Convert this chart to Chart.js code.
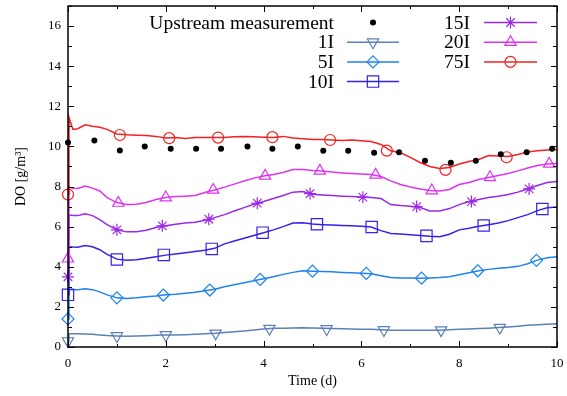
<!DOCTYPE html>
<html>
<head>
<meta charset="utf-8">
<script src="https://cdn.jsdelivr.net/npm/chart.js"></script>
<style>
  html, body { margin: 0; padding: 0; background: #fff; }
</style>
</head>
<body>
<canvas id="do-chart" width="567" height="396"></canvas>
<script>
// Simulated DO series (days on x, g/m3 on y)
const days = [0, 0.02, 0.1, 0.2, 0.35, 0.5, 0.65, 0.8, 1.0, 1.2, 1.4, 1.6, 1.8, 2.0, 2.2, 2.4, 2.6, 2.8,
  3.0, 3.2, 3.4, 3.6, 3.8, 4.0, 4.2, 4.4, 4.6, 4.8, 5.0, 5.2, 5.4, 5.6, 5.8, 6.0, 6.2, 6.4, 6.6, 6.8,
  7.0, 7.2, 7.4, 7.6, 7.8, 8.0, 8.2, 8.4, 8.6, 8.8, 9.0, 9.2, 9.4, 9.6, 9.8, 10.0];

const do1I = [0.3, 0.66, 0.66, 0.66, 0.65, 0.63, 0.6, 0.57, 0.55, 0.54, 0.55, 0.56, 0.58, 0.6, 0.6, 0.61, 0.63, 0.66,
  0.68, 0.72, 0.76, 0.8, 0.85, 0.9, 0.93, 0.94, 0.95, 0.96, 0.95, 0.93, 0.92, 0.91, 0.9, 0.89, 0.88, 0.86, 0.84, 0.84,
  0.84, 0.84, 0.83, 0.84, 0.86, 0.88, 0.9, 0.92, 0.94, 0.97, 1.0, 1.04, 1.08, 1.11, 1.14, 1.16];
const do5I = [1.4, 2.85, 2.86, 2.86, 2.9, 2.86, 2.75, 2.6, 2.45, 2.42, 2.45, 2.5, 2.54, 2.6, 2.63, 2.68, 2.73, 2.8,
  2.88, 3.0, 3.1, 3.2, 3.3, 3.4, 3.5, 3.62, 3.72, 3.8, 3.78, 3.76, 3.75, 3.72, 3.7, 3.68, 3.65, 3.55, 3.46, 3.44,
  3.44, 3.43, 3.44, 3.46, 3.5, 3.6, 3.7, 3.8, 3.87, 3.92, 3.96, 4.02, 4.15, 4.33, 4.45, 4.5];
const do10I = [2.6, 5.0, 4.98, 4.97, 5.06, 5.0, 4.85, 4.62, 4.38, 4.32, 4.35, 4.42, 4.5, 4.58, 4.64, 4.7, 4.76, 4.82,
  4.92, 5.14, 5.28, 5.42, 5.56, 5.7, 5.84, 6.0, 6.18, 6.2, 6.13, 6.1, 6.08, 6.06, 6.04, 6.02, 5.98, 5.8, 5.66, 5.63,
  5.6, 5.56, 5.52, 5.5, 5.62, 5.84, 5.92, 6.02, 6.1, 6.18, 6.3, 6.45, 6.6, 6.8, 6.94, 6.98];
const do15I = [3.5, 6.58, 6.56, 6.55, 6.64, 6.55, 6.35, 6.1, 5.84, 5.74, 5.74, 5.82, 5.96, 6.05, 6.12, 6.18, 6.22, 6.32,
  6.45, 6.6, 6.78, 6.95, 7.12, 7.25, 7.4, 7.55, 7.72, 7.75, 7.62, 7.58, 7.55, 7.52, 7.5, 7.48, 7.45, 7.4, 7.1, 7.05,
  7.02, 6.95, 6.78, 6.78, 6.9, 7.1, 7.25, 7.35, 7.45, 7.52, 7.6, 7.72, 7.88, 8.05, 8.2, 8.25];
const do20I = [4.4, 7.97, 7.92, 7.9, 8.02, 7.92, 7.78, 7.45, 7.2, 7.1, 7.12, 7.2, 7.35, 7.45, 7.5, 7.52, 7.55, 7.7,
  7.83, 7.97, 8.12, 8.28, 8.42, 8.52, 8.6, 8.7, 8.85, 8.85, 8.8, 8.78, 8.72, 8.68, 8.65, 8.62, 8.6, 8.5, 8.28, 8.1,
  7.98, 7.88, 7.8, 7.78, 7.85, 8.1, 8.2, 8.35, 8.45, 8.55, 8.65, 8.78, 8.92, 9.05, 9.12, 9.15];
const do75I = [7.6, 11.45, 10.85, 10.88, 11.08, 11.0, 10.95, 10.85, 10.62, 10.58, 10.56, 10.55, 10.5, 10.42, 10.45, 10.4, 10.45, 10.44,
  10.44, 10.45, 10.48, 10.5, 10.48, 10.46, 10.45, 10.5, 10.42, 10.38, 10.35, 10.34, 10.32, 10.3, 10.32, 10.28, 10.24, 10.1, 9.78, 9.68,
  9.45, 9.2, 9.0, 8.9, 8.95, 9.12, 9.25, 9.35, 9.55, 9.52, 9.5, 9.6, 9.72, 9.78, 9.82, 9.84];

// point markers placed along each curve
const mark1I_t = [0, 1.0, 2.0, 3.02, 4.12, 5.29, 6.46, 7.63, 8.83];
const mark1I_v = [0.3, 0.55, 0.6, 0.68, 0.92, 0.9, 0.85, 0.84, 0.97];
const mark5I_t = [0, 1.0, 1.95, 2.9, 3.93, 5.0, 6.1, 7.23, 8.38, 9.58];
const mark5I_v = [1.4, 2.45, 2.59, 2.84, 3.37, 3.78, 3.67, 3.43, 3.8, 4.32];
const mark10I_t = [0, 1.0, 1.96, 2.94, 3.98, 5.09, 6.21, 7.33, 8.5, 9.7];
const mark10I_v = [2.6, 4.36, 4.59, 4.89, 5.7, 6.12, 5.98, 5.54, 6.06, 6.88];
const mark15I_t = [0, 1.0, 1.93, 2.88, 3.87, 4.95, 6.03, 7.13, 8.25, 9.43];
const mark15I_v = [3.5, 5.84, 6.04, 6.37, 7.17, 7.65, 7.47, 7.0, 7.25, 7.88];
const mark20I_t = [0, 1.03, 2.0, 2.97, 4.03, 5.15, 6.29, 7.44, 8.63, 9.84];
const mark20I_v = [4.4, 7.18, 7.45, 7.83, 8.53, 8.78, 8.58, 7.8, 8.46, 9.13];
const mark75I_t = [0, 1.06, 2.07, 3.07, 4.18, 5.36, 6.52, 7.72, 8.97];
const mark75I_v = [7.6, 10.57, 10.41, 10.44, 10.46, 10.32, 9.79, 8.83, 9.46];

// upstream measurement
const upstreamDays = [0, 0.54, 1.06, 1.57, 2.1, 2.62, 3.13, 3.67, 4.18, 4.7, 5.22, 5.73, 6.26, 6.77, 7.3, 7.83, 8.34, 8.85, 9.38, 9.9];
const upstreamDO = [10.2, 10.3, 9.8, 10.0, 9.88, 9.88, 9.88, 9.99, 9.88, 9.99, 9.78, 9.78, 9.69, 9.71, 9.29, 9.19, 9.28, 9.61, 9.71, 9.88];

const xTicks = [0, 2, 4, 6, 8, 10];
const yTicks = [0, 2, 4, 6, 8, 10, 12, 14, 16];

const FONT = '"Liberation Serif", "Times New Roman", serif';

const pairs = (xs, ys) => xs.map((x, i) => ({ x: x, y: ys[i] }));

// name, values, markers, colour, point style
const seriesDefs = [
  { name: '75I', vals: do75I, mt: mark75I_t, mv: mark75I_v, color: '#f52020', style: 'circle', radius: 5.5, rot: 0 },
  { name: '20I', vals: do20I, mt: mark20I_t, mv: mark20I_v, color: '#dd33f0', style: 'triangle', radius: 6.5, rot: 0 },
  { name: '15I', vals: do15I, mt: mark15I_t, mv: mark15I_v, color: '#9a28e8', style: 'star', radius: 6, rot: 0 },
  { name: '10I', vals: do10I, mt: mark10I_t, mv: mark10I_v, color: '#3322ee', style: 'rect', radius: 8, rot: 0 },
  { name: '5I', vals: do5I, mt: mark5I_t, mv: mark5I_v, color: '#1e82f0', style: 'rectRot', radius: 6, rot: 0 },
  { name: '1I', vals: do1I, mt: mark1I_t, mv: mark1I_v, color: '#5b80b8', style: 'triangle', radius: 6.5, rot: 180 }
];

// dataset 0 is drawn on top
const datasets = [{
  label: 'Upstream measurement',
  data: pairs(upstreamDays, upstreamDO),
  showLine: false,
  clip: false,
  pointStyle: 'circle',
  pointRadius: 3,
  pointBackgroundColor: '#000',
  pointBorderColor: '#000',
  pointBorderWidth: 0
}];
seriesDefs.forEach(s => {
  datasets.push({
    label: s.name + ' markers',
    data: pairs(s.mt, s.mv),
    showLine: false,
    clip: false,
    pointStyle: s.style,
    pointRotation: s.rot,
    pointRadius: s.radius,
    pointBorderColor: s.color,
    pointBackgroundColor: 'rgba(0,0,0,0)',
    pointBorderWidth: 1.2
  });
  datasets.push({
    label: s.name,
    data: pairs(days, s.vals),
    showLine: true,
    clip: false,
    borderColor: s.color,
    borderWidth: 1.5,
    pointRadius: 0,
    tension: 0
  });
});

// inward ticks and the frame
const framePlugin = {
  id: 'frame',
  afterDraw(chart) {
    const { ctx, chartArea: a, scales: { x, y } } = chart;
    ctx.save();
    ctx.strokeStyle = '#000';
    ctx.lineWidth = 1;
    ctx.beginPath();
    for (let v = 0; v <= 10; v++) {
      const px = Math.round(x.getPixelForValue(v)) + 0.5;
      const len = v % 2 === 0 ? 6 : 3;
      ctx.moveTo(px, a.bottom); ctx.lineTo(px, a.bottom - len);
      ctx.moveTo(px, a.top); ctx.lineTo(px, a.top + len);
    }
    for (let v = 0; v <= 17; v++) {
      const py = Math.round(y.getPixelForValue(v)) + 0.5;
      const len = v % 2 === 0 ? 6 : 4;
      ctx.moveTo(a.left, py); ctx.lineTo(a.left + len, py);
      ctx.moveTo(a.right, py); ctx.lineTo(a.right - len, py);
    }
    ctx.stroke();
    ctx.lineWidth = 1.5;
    ctx.strokeRect(a.left, a.top, a.right - a.left, a.bottom - a.top);
    ctx.restore();
  }
};

// gnuplot style key: label, then sample line with marker
const keyPlugin = {
  id: 'key',
  afterDraw(chart) {
    const { ctx, chartArea: a } = chart;
    const rows = [{ name: 'Upstream measurement', col: 0, row: 0 }];
    ['1I', '5I', '10I'].forEach((n, i) => rows.push({ name: n, col: 0, row: i + 1 }));
    ['15I', '20I', '75I'].forEach((n, i) => rows.push({ name: n, col: 1, row: i }));
    const cols = [{ text: a.left + 266, x0: a.left + 279, x1: a.left + 331 },
                  { text: a.left + 402, x0: a.left + 416, x1: a.left + 469 }];
    ctx.save();
    ctx.font = '19.5px ' + FONT;
    ctx.textAlign = 'right';
    ctx.textBaseline = 'middle';
    rows.forEach(r => {
      const c = cols[r.col];
      const yy = a.top + 16.5 + 19.7 * r.row;
      ctx.fillStyle = '#000';
      ctx.fillText(r.name, c.text, yy + 1);
      const mid = (c.x0 + c.x1) / 2;
      if (r.name === 'Upstream measurement') {
        ctx.beginPath();
        ctx.arc(mid, yy, 3, 0, Math.PI * 2);
        ctx.fill();
        return;
      }
      const s = seriesDefs.find(d => d.name === r.name);
      ctx.strokeStyle = s.color;
      ctx.lineWidth = 1.5;
      ctx.beginPath();
      ctx.moveTo(c.x0, yy); ctx.lineTo(c.x1, yy);
      ctx.stroke();
      ctx.lineWidth = 1.2;
      ctx.fillStyle = 'rgba(0,0,0,0)';
      Chart.helpers.drawPoint(ctx, {
        pointStyle: s.style, rotation: s.rot, radius: s.radius, borderWidth: 1.2
      }, mid, yy);
    });
    ctx.restore();
  }
};

new Chart(document.getElementById('do-chart'), {
  type: 'scatter',
  data: { datasets: datasets },
  options: {
    responsive: false,
    animation: false,
    layout: { autoPadding: false, padding: { top: 6, right: 10, left: 0, bottom: 0 } },
    plugins: { legend: { display: false }, tooltip: { enabled: false } },
    scales: {
      x: {
        type: 'linear',
        min: 0, max: 10,
        afterFit(scale) { scale.height = 49; scale.paddingLeft = 0; scale.paddingRight = 0; },
        afterBuildTicks(scale) { scale.ticks = xTicks.map(v => ({ value: v })); },
        grid: { display: false, drawTicks: false },
        border: { display: false },
        ticks: { color: '#000', font: { family: FONT, size: 13 }, padding: 9, maxRotation: 0 },
        title: { display: true, text: 'Time (d)', color: '#000', font: { family: FONT, size: 14 }, padding: { top: 0, bottom: 6 } }
      },
      y: {
        type: 'linear',
        min: 0, max: 17,
        afterFit(scale) { scale.width = 68; scale.paddingTop = 0; scale.paddingBottom = 0; },
        afterBuildTicks(scale) { scale.ticks = yTicks.map(v => ({ value: v })); },
        grid: { display: false, drawTicks: false },
        border: { display: false },
        ticks: { color: '#000', font: { family: FONT, size: 13 }, padding: 7 },
        title: { display: true, text: 'DO [g/m³]', color: '#000', font: { family: FONT, size: 14 }, padding: { top: 13, bottom: 0 } }
      }
    }
  },
  plugins: [framePlugin, keyPlugin]
});
</script>
</body>
</html>
